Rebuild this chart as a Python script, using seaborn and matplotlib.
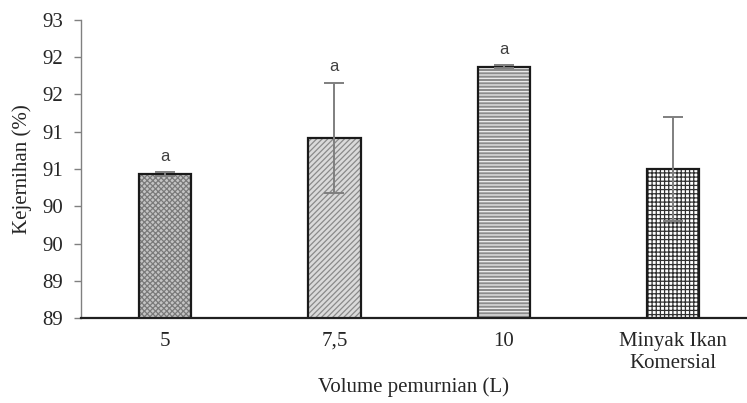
import numpy as np
import pandas as pd
import seaborn as sns
import matplotlib.pyplot as plt
from matplotlib.ticker import FuncFormatter, MultipleLocator

# data
volume = ['5', '7,5', '10', 'Minyak Ikan\nKomersial']
kejernihan = [90.93, 91.42, 92.37, 91.00]
sd = [0.03, 0.74, 0.02, 0.70]
notasi = ['a', 'a', 'a', '']

df = pd.DataFrame({'volume': volume, 'kejernihan': kejernihan})

sns.set_style('white')
plt.rcParams['font.family'] = ['Liberation Serif', 'DejaVu Serif']
plt.rcParams['hatch.linewidth'] = 0.9

fig = plt.figure(figsize=(7.47, 4.03), dpi=100)
ax = fig.add_axes([0.1084, 0.2109, 0.8903, 0.7395])

w = 0.31
sns.barplot(data=df, x='volume', y='kejernihan', errorbar=None, width=w,
            color='white', ax=ax)

# fill patterns, drawn under the black outline
faces = ['#c4c4c4', '#dadada', '#8c8c8c', 'white']
hatches = ['xxxxxx', '//////', '-----', '++++']
hcolors = ['#7a7a7a', '#8a8a8a', '#f0f0f0', '#303030']
for p, fc, h, hc in zip(ax.patches, faces, hatches, hcolors):
    p.set_facecolor(fc)
    p.set_hatch(h)
    p.set_edgecolor(hc)
    p.set_linewidth(0)

x = np.arange(len(volume))
ax.bar(x, kejernihan, width=w, fill=False, edgecolor='#1a1a1a', linewidth=1.6)
ax.errorbar(x, kejernihan, yerr=sd, fmt='none', ecolor='#7f7f7f',
            elinewidth=1.4, capsize=7, capthick=1.4)

for xi, y, e, t in zip(x, kejernihan, sd, notasi):
    if t:
        ax.annotate(t, (xi, y + e), xytext=(0, 6), textcoords='offset points',
                    ha='center', va='bottom', fontsize=12, color='#404040',
                    family=['Liberation Sans', 'DejaVu Sans'])

ax.set_ylim(89, 93)
ax.set_xlim(-0.496, 3.43)
ax.yaxis.set_major_locator(MultipleLocator(0.5))
ax.yaxis.set_major_formatter(FuncFormatter(lambda v, p: f'{int(np.floor(v + 1e-9))}'))

ax.set_ylabel('Kejernihan (%)', fontsize=15, labelpad=7)
ax.set_xlabel('Volume pemurnian (L)', fontsize=15, labelpad=3)
ax.tick_params(axis='y', which='major', left=True, length=5, width=1,
               color='#808080', labelsize=15, pad=8)
ax.tick_params(axis='x', length=0, labelsize=15, pad=10)
for lab in ax.get_xticklabels():
    lab.set_linespacing(1.25)

for s in ['top', 'right']:
    ax.spines[s].set_visible(False)
ax.spines['left'].set_color('#808080')
ax.spines['left'].set_linewidth(1)
ax.spines['bottom'].set_color('#202020')
ax.spines['bottom'].set_linewidth(1.6)

fig.savefig('out.png', dpi=100)
